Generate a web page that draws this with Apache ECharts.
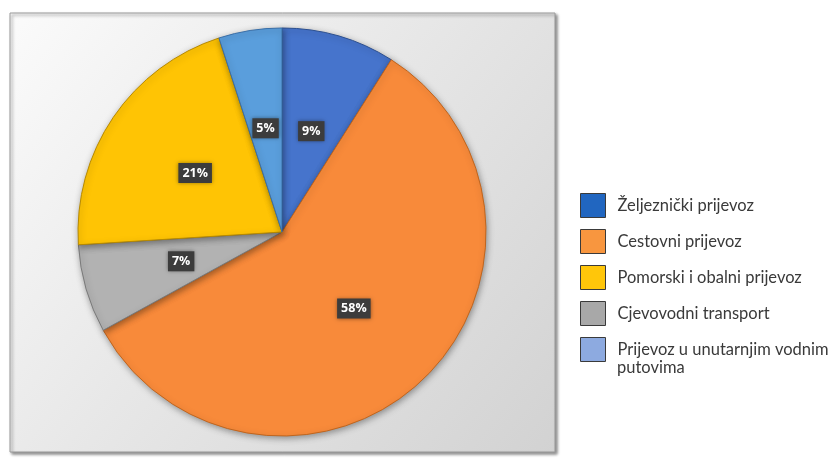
<!DOCTYPE html>
<html>
<head>
<meta charset="utf-8">
<script src="https://cdn.jsdelivr.net/npm/echarts@6/dist/echarts.min.js"></script>
<style>
html,body{margin:0;padding:0;background:#fff;}
#c{width:834px;height:466px;}
</style>
</head>
<body>
<div id="c"></div>
<script>
var categories = ['Željeznički prijevoz', 'Cestovni prijevoz', 'Pomorski i obalni prijevoz', 'Cjevovodni transport', 'Prijevoz u unutarnjim vodnim putovima'];
var values = [9, 58, 21, 7, 5];
// pie draws clockwise from top in this order
var pieOrder = [0, 1, 3, 2, 4];
var legendLines = ['Željeznički prijevoz', 'Cestovni prijevoz', 'Pomorski i obalni prijevoz', 'Cjevovodni transport', 'Prijevoz u unutarnjim vodnim'];
var legendExtraLine = 'putovima';

var sliceColors = ['#4674CC', '#F88A3A', '#FFC404', '#B2B2B2', '#5A9EDC'];
var sliceBorders = ['#2B4F90', '#C0651E', '#B88A00', '#7A7A7A', '#3A6FA8'];
var legendColors = ['#2166C0', '#F8963F', '#FFC60A', '#A8A8A8', '#8DAAE0'];

var pieData = pieOrder.map(function (i) {
  return {
    name: categories[i],
    value: values[i],
    itemStyle: { color: sliceColors[i], borderColor: sliceBorders[i], borderWidth: 1 }
  };
});

var chart = echarts.init(document.getElementById('c'));
chart.setOption({
  animation: false,
  graphic: [{
    type: 'rect',
    z: -10,
    shape: { x: 10, y: 13, width: 545, height: 439 },
    style: {
      fill: new echarts.graphic.LinearGradient(0, 0, 1, 1, [
        { offset: 0, color: '#FBFBFB' },
        { offset: 0.45, color: '#E8E8E8' },
        { offset: 1, color: '#D2D2D2' }
      ]),
      stroke: '#9A9A9A',
      lineWidth: 1,
      shadowBlur: 3,
      shadowOffsetX: 2,
      shadowOffsetY: 2,
      shadowColor: 'rgba(0,0,0,0.45)'
    }
  }, {
    type: 'text',
    left: 617,
    top: 359,
    style: { text: legendExtraLine, font: '16.5px Lato', fill: '#3A3A3A' }
  }],
  legend: {
    orient: 'vertical',
    left: 580,
    top: 193,
    padding: 0,
    itemWidth: 25,
    itemHeight: 24,
    itemGap: 11,
    icon: 'rect',
    textStyle: { fontFamily: 'Lato', fontSize: 16.5, color: '#3A3A3A', padding: [0, 0, 0, 7] },
    formatter: function (name) {
      return legendLines[categories.indexOf(name)];
    },
    data: categories.map(function (c, i) {
      return {
        name: c,
        itemStyle: { color: legendColors[i], borderColor: '#3A3A3A', borderWidth: 1 }
      };
    })
  },
  series: [{
    type: 'pie',
    center: [282, 232],
    radius: 204,
    startAngle: 90,
    clockwise: true,
    avoidLabelOverlap: false,
    data: pieData,
    itemStyle: {
      shadowBlur: 6,
      shadowColor: 'rgba(0,0,0,0.35)',
      shadowOffsetX: 1,
      shadowOffsetY: 2
    },
    label: {
      show: true,
      position: 'inside',
      formatter: '{c}%',
      color: '#FFFFFF',
      fontFamily: 'Open Sans',
      fontWeight: 'bold',
      fontSize: 12.5,
      backgroundColor: '#3C3C3C',
      padding: [4, 4, 3, 4],
      shadowBlur: 4,
      shadowColor: 'rgba(0,0,0,0.4)'
    },
    labelLine: { show: false },
    emphasis: { disabled: true }
  }]
});
</script>
</body>
</html>
